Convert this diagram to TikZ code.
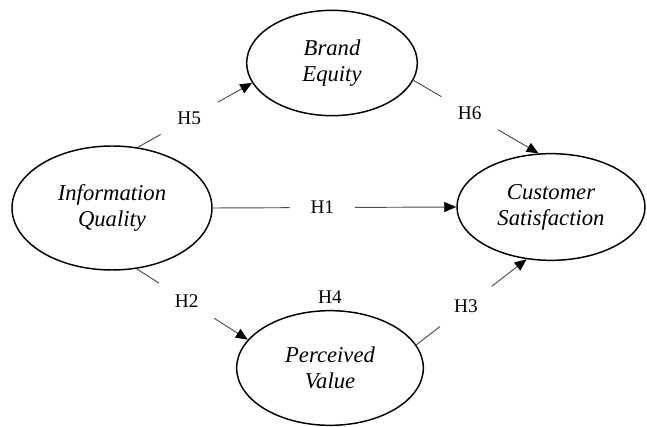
\documentclass[tikz,border=0pt]{standalone}
\usepackage{fontspec}
\setmainfont{Liberation Serif}
\usetikzlibrary{shapes.geometric, arrows.meta, positioning}

\begin{document}
\begin{tikzpicture}[
    x=0.75pt, y=-0.75pt,
    construct/.style={ellipse, draw, line width=1.1pt, align=center, font=\fontsize{17}{19.5}\selectfont\itshape},
    htext/.style={font=\fontsize{14.5}{16}\selectfont},
    hlabel/.style={htext, circle, fill=white, minimum size=49pt, inner sep=0pt, pos=0.45},
    hyp/.style={draw=black!70, line width=0.7pt, -{Triangle[length=9pt, width=7.5pt, color=black]}}
]
\useasboundingbox (0,0) rectangle (647,427);
\node[construct, minimum width=150pt, minimum height=93pt] (iq) at (112,208) {Information\\Quality};
\node[construct, minimum width=128pt, minimum height=79pt] (be) at (332,63) {Brand\\Equity};
\node[construct, minimum width=141pt, minimum height=80pt] (cs) at (551,207) {Customer\\Satisfaction};
\node[construct, minimum width=140pt, minimum height=86pt] (pv) at (330,368) {Perceived\\Value};
\node[htext] (h4) at (330,297) {H4};
\draw[hyp] (iq.67) -- node[hlabel] (h5) {H5} (be.194);
\draw[hyp] (be.348) -- node[hlabel] (h6) {H6} (cs.103);
\draw[hyp] (iq.east) -- node[hlabel] (h1) {H1} (cs.west);
\draw[hyp] (iq.292) -- node[hlabel] (h2) {H2} (pv.161);
\draw[hyp] (pv.15) -- node[hlabel] (h3) {H3} (cs.245);
\end{tikzpicture}
\end{document}
